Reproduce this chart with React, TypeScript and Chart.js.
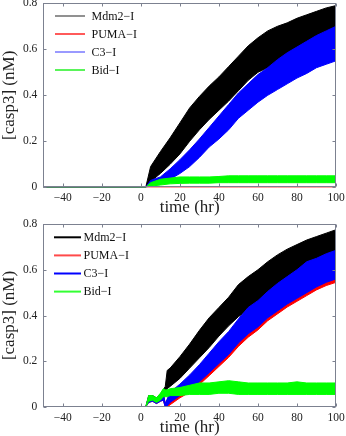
import React, { useEffect, useRef } from 'react';
import { Chart, registerables } from 'chart.js';
Chart.register(...registerables);

const SERIES = ['Mdm2−I', 'PUMA−I', 'C3−I', 'Bid−I'];
const X_TICKS = [-40, -20, 0, 20, 40, 60, 80, 100];
const Y_TICKS = [0, 0.2, 0.4, 0.6, 0.8];

// ---- top panel (band = upper / lower envelope of the noisy trace) ----
const timeTop = [-50, 2.5, 5, 10, 15, 20, 25, 30, 35, 40, 45, 50, 55, 60, 65, 70, 75, 80, 85, 90, 95, 100];
const mdm2TopHi = [0, 0, 0.09, 0.155, 0.215, 0.28, 0.345, 0.395, 0.44, 0.48, 0.525, 0.57, 0.615, 0.65, 0.68, 0.7, 0.715, 0.735, 0.75, 0.765, 0.78, 0.79];
const mdm2TopLo = [0, 0, 0.025, 0.06, 0.1, 0.145, 0.2, 0.25, 0.295, 0.335, 0.375, 0.42, 0.465, 0.5, 0.52, 0.545, 0.57, 0.6, 0.615, 0.635, 0.655, 0.67];
const pumaTopHi = [0, 0, 0, 0, 0, 0, 0, 0, 0, 0, 0, 0, 0, 0, 0, 0, 0, 0, 0, 0, 0, 0];
const pumaTopLo = [0, 0, 0, 0, 0, 0, 0, 0, 0, 0, 0, 0, 0, 0, 0, 0, 0, 0, 0, 0, 0, 0];
const c3TopHi = [0, 0, 0.03, 0.045, 0.08, 0.12, 0.163, 0.21, 0.26, 0.31, 0.36, 0.41, 0.45, 0.49, 0.52, 0.555, 0.585, 0.61, 0.635, 0.66, 0.68, 0.7];
const c3TopLo = [0, 0, 0.01, 0.02, 0.035, 0.06, 0.09, 0.13, 0.175, 0.21, 0.25, 0.3, 0.335, 0.37, 0.4, 0.425, 0.45, 0.475, 0.495, 0.52, 0.535, 0.55];
const bidTopHi = [0, 0, 0.02, 0.035, 0.04, 0.045, 0.045, 0.045, 0.045, 0.047, 0.05, 0.05, 0.05, 0.05, 0.05, 0.05, 0.05, 0.05, 0.05, 0.05, 0.05, 0.05];
const bidTopLo = [0, 0, 0.005, 0.01, 0.015, 0.017, 0.018, 0.018, 0.018, 0.02, 0.02, 0.02, 0.02, 0.02, 0.02, 0.02, 0.02, 0.02, 0.02, 0.02, 0.02, 0.02];

// ---- bottom panel ----
const timeBot = [-50, 2.5, 4, 6, 8, 10, 11.5, 12.5, 13.5, 15, 20, 25, 30, 35, 40, 45, 50, 55, 60, 65, 70, 75, 80, 85, 90, 95, 100];
const mdm2BotHi = [0, 0, 0.05, 0.05, 0.04, 0.055, 0.075, 0.09, 0.16, 0.17, 0.22, 0.275, 0.335, 0.39, 0.435, 0.48, 0.535, 0.57, 0.6, 0.635, 0.665, 0.69, 0.71, 0.73, 0.745, 0.76, 0.775];
const mdm2BotLo = [0, 0, 0.025, 0.03, 0.02, 0.03, 0.04, 0.05, 0.08, 0.09, 0.125, 0.17, 0.215, 0.26, 0.31, 0.355, 0.395, 0.425, 0.46, 0.49, 0.52, 0.55, 0.575, 0.6, 0.625, 0.65, 0.67];
const pumaBotHi = [0, 0, 0.045, 0.045, 0.035, 0.05, 0.06, 0.015, 0.03, 0.06, 0.095, 0.13, 0.175, 0.225, 0.275, 0.32, 0.37, 0.42, 0.455, 0.495, 0.53, 0.56, 0.59, 0.62, 0.64, 0.66, 0.68];
const pumaBotLo = [0, 0, 0.02, 0.025, 0.015, 0.025, 0.03, 0, 0, 0.01, 0.04, 0.065, 0.098, 0.137, 0.177, 0.217, 0.265, 0.305, 0.337, 0.377, 0.407, 0.437, 0.462, 0.487, 0.512, 0.531, 0.545];
const c3BotHi = [0, 0, 0.045, 0.045, 0.035, 0.05, 0.06, 0.015, 0.035, 0.065, 0.1, 0.14, 0.185, 0.235, 0.285, 0.33, 0.385, 0.435, 0.465, 0.505, 0.54, 0.57, 0.6, 0.635, 0.65, 0.67, 0.685];
const c3BotLo = [0, 0, 0.02, 0.025, 0.015, 0.025, 0.03, 0, 0.005, 0.02, 0.05, 0.075, 0.11, 0.15, 0.19, 0.23, 0.28, 0.32, 0.35, 0.39, 0.42, 0.45, 0.475, 0.5, 0.525, 0.545, 0.56];
const bidBotHi = [0, 0, 0.05, 0.05, 0.04, 0.06, 0.08, 0.075, 0.075, 0.08, 0.085, 0.095, 0.105, 0.105, 0.11, 0.115, 0.11, 0.105, 0.105, 0.105, 0.105, 0.105, 0.11, 0.105, 0.105, 0.105, 0.105];
const bidBotLo = [0, 0, 0.025, 0.03, 0.02, 0.03, 0.045, 0.045, 0.045, 0.05, 0.05, 0.055, 0.055, 0.055, 0.06, 0.06, 0.055, 0.055, 0.055, 0.055, 0.055, 0.055, 0.055, 0.055, 0.055, 0.055, 0.055];

const BAND_COLORS = ['#000000', '#ff0000', '#0000ff', '#00ff00'];
const LEGEND_TOP = ['#555555', '#ff0000', '#6464ff', '#00ee00'];
const LEGEND_BOT = ['#000000', '#ff4a4a', '#0000ff', '#33ff33'];

const FONT = '"Liberation Serif", "DejaVu Serif", serif';

function band(label: string, times: number[], hi: number[], lo: number[], color: string, order: number) {
  return [
    {
      label,
      data: times.map((t, i) => ({ x: t, y: hi[i] })),
      borderColor: color,
      backgroundColor: color,
      borderWidth: 1,
      fill: '+1',
      pointRadius: 0,
      tension: 0,
      order,
    },
    {
      label: label + ' lo',
      data: times.map((t, i) => ({ x: t, y: lo[i] })),
      borderColor: color,
      backgroundColor: color,
      borderWidth: 1,
      fill: false,
      pointRadius: 0,
      tension: 0,
      order,
    },
  ];
}

type PanelProps = {
  times: number[];
  his: number[][];
  los: number[][];
  legendColors: string[];
  legendWidth: number;
  legend: { x1: number; x2: number; tx: number; y0: number; dy: number };
  padTop: number;
  xHeight: number;
  xTitleLH: number;
};

function Panel(p: PanelProps) {
  const ref = useRef<HTMLCanvasElement | null>(null);
  useEffect(() => {
    if (!ref.current) return;
    const datasets: any[] = [];
    SERIES.forEach((name, i) => {
      datasets.push(...band(name, p.times, p.his[i], p.los[i], BAND_COLORS[i], 3 - i));
    });

    const boxPlugin = {
      id: 'boxTicks',
      afterDatasetsDraw(chart: any) {
        const { ctx, chartArea: a, scales } = chart;
        ctx.save();
        ctx.strokeStyle = '#7c8190';
        ctx.lineWidth = 1;
        const L = Math.round(a.left) + 0.5;
        const R = Math.round(a.right) - 0.5;
        const T = Math.round(a.top) + 0.5;
        const B = Math.round(a.bottom) - 0.5;
        ctx.strokeRect(L, T, R - L, B - T);
        ctx.beginPath();
        X_TICKS.forEach((v) => {
          const x = Math.round(scales.x.getPixelForValue(v)) + 0.5;
          ctx.moveTo(x, B);
          ctx.lineTo(x, B - 3);
          ctx.moveTo(x, T);
          ctx.lineTo(x, T + 3);
        });
        Y_TICKS.forEach((v) => {
          const y = Math.round(scales.y.getPixelForValue(v)) + 0.5;
          ctx.moveTo(L, y);
          ctx.lineTo(L + 3, y);
          ctx.moveTo(R, y);
          ctx.lineTo(R - 3, y);
        });
        ctx.stroke();
        ctx.restore();
      },
    };

    const legendPlugin = {
      id: 'insideLegend',
      afterDraw(chart: any) {
        const { ctx } = chart;
        const lg = p.legend;
        ctx.save();
        ctx.font = '12px ' + FONT;
        ctx.textBaseline = 'middle';
        ctx.textAlign = 'left';
        SERIES.forEach((name, i) => {
          const y = lg.y0 + i * lg.dy;
          ctx.strokeStyle = p.legendColors[i];
          ctx.lineWidth = p.legendWidth;
          ctx.beginPath();
          ctx.moveTo(lg.x1, y);
          ctx.lineTo(lg.x2, y);
          ctx.stroke();
          ctx.fillStyle = '#111';
          ctx.fillText(name, lg.tx, y + 0.5);
        });
        ctx.restore();
      },
    };

    const chart = new Chart(ref.current, {
      type: 'line',
      data: { datasets },
      options: {
        animation: false,
        responsive: false,
        maintainAspectRatio: false,
        devicePixelRatio: 1,
        layout: { padding: { left: 0, right: 10, top: p.padTop, bottom: 0 } },
        plugins: { legend: { display: false }, tooltip: { enabled: false } },
        scales: {
          x: {
            type: 'linear',
            min: -50,
            max: 100,
            grid: { display: false, drawTicks: false },
            border: { display: false },
            afterBuildTicks: (s: any) => {
              s.ticks = X_TICKS.map((v) => ({ value: v }));
            },
            afterFit: (s: any) => {
              s.height = p.xHeight;
              s.paddingLeft = 0;
              s.paddingRight = 0;
            },
            ticks: {
              padding: 4,
              maxRotation: 0,
              autoSkip: false,
              color: '#222',
              font: { family: FONT, size: 11.5 },
              callback: (v: any) => String(v).replace('-', '−'),
            },
            title: {
              display: true,
              text: 'time (hr)',
              color: '#222',
              padding: 0,
              font: { family: FONT, size: 17, lineHeight: p.xTitleLH },
            },
          },
          y: {
            type: 'linear',
            min: 0,
            max: 0.8,
            grid: { display: false, drawTicks: false },
            border: { display: false },
            afterBuildTicks: (s: any) => {
              s.ticks = Y_TICKS.map((v) => ({ value: v }));
            },
            afterFit: (s: any) => {
              s.width = 43.3;
              s.paddingTop = 0;
              s.paddingBottom = 0;
            },
            ticks: {
              padding: 6,
              autoSkip: false,
              color: '#222',
              font: { family: FONT, size: 11.5 },
              callback: (v: any) => String(Math.round(v * 10) / 10),
            },
            title: {
              display: true,
              text: '[casp3] (nM)',
              color: '#222',
              padding: 0,
              font: { family: FONT, size: 17, lineHeight: 1.1 },
            },
          },
        },
      },
      plugins: [boxPlugin, legendPlugin],
    } as any);
    return () => chart.destroy();
  }, []);
  return <canvas ref={ref} width={346} height={218} style={{ display: 'block', width: 346, height: 218 }} />;
}

export default function App() {
  return (
    <div style={{ position: 'absolute', left: 0, top: 0, width: 346, height: 436, background: '#fff' }}>
      <Panel
        times={timeTop}
        his={[mdm2TopHi, pumaTopHi, c3TopHi, bidTopHi]}
        los={[mdm2TopLo, pumaTopLo, c3TopLo, bidTopLo]}
        legendColors={LEGEND_TOP}
        legendWidth={1.3}
        legend={{ x1: 55, x2: 85, tx: 91.5, y0: 16, dy: 18 }}
        padTop={3.3}
        xHeight={30.7}
        xTitleLH={1.2}
      />
      <Panel
        times={timeBot}
        his={[mdm2BotHi, pumaBotHi, c3BotHi, bidBotHi]}
        los={[mdm2BotLo, pumaBotLo, c3BotLo, bidBotLo]}
        legendColors={LEGEND_BOT}
        legendWidth={2}
        legend={{ x1: 54, x2: 81, tx: 83.5, y0: 19.3, dy: 18.1 }}
        padTop={6}
        xHeight={29}
        xTitleLH={1.0}
      />
    </div>
  );
}
